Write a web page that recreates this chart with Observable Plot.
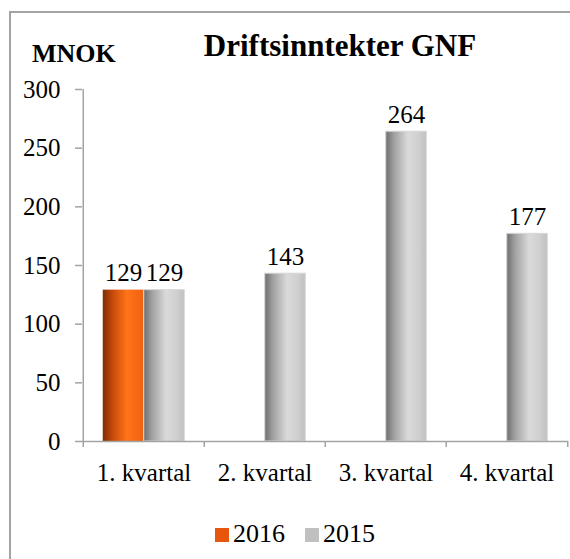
<!DOCTYPE html>
<html>
<head>
<meta charset="utf-8">
<script src="https://cdn.jsdelivr.net/npm/d3@7"></script>
<script src="https://cdn.jsdelivr.net/npm/@observablehq/plot@0.6"></script>
<style>
html,body{margin:0;padding:0;background:#fff;}
#wrap{position:relative;width:570px;height:559px;overflow:hidden;font-family:'Liberation Serif','Times New Roman',Times,serif;color:#000;}
#border{position:absolute;left:9px;top:11px;width:700px;height:700px;border-left:2px solid #a3a3a3;border-top:2px solid #a3a3a3;}
#chart{position:absolute;left:0;top:0;}
#title{position:absolute;left:340px;top:30px;transform:translateX(-50%);font-weight:bold;font-size:31px;line-height:31px;white-space:nowrap;}
#unit{position:absolute;left:32px;top:41px;font-weight:bold;font-size:26px;line-height:26px;white-space:nowrap;}
#legend{position:absolute;left:0;top:521px;width:570px;height:30px;}
.item{position:absolute;top:0;font-size:26px;line-height:26px;white-space:nowrap;}
.sw{display:inline-block;width:14px;height:14px;margin-right:4px;vertical-align:0px;}
#probe{position:absolute;left:390px;top:300px;font-size:9px;font-family:monospace;white-space:pre;color:#fff;}
</style>
</head>
<body>
<div id="wrap">
  <div id="border"></div>
  <div id="chart"></div>
  <div id="unit">MNOK</div>
  <div id="title">Driftsinntekter GNF</div>
  <div id="legend"></div>
  <div id="probe"></div>
</div>
<script>
// ---- data ----
const quarters = ["1. kvartal", "2. kvartal", "3. kvartal", "4. kvartal"];
const seriesNames = ["2016", "2015"];
const values2016 = [129, null, null, null];
const values2015 = [129, 143, 264, 177];
const yTicks = [0, 50, 100, 150, 200, 250, 300];
const legendColors = ["#e8560e", "#c0c0c0"];

// ---- layout ----
const W = 570, H = 500;
const mL = 82, mR = 2, mT = 89, mB = 59;
const bw = (W - mL - mR) / quarters.length;
const barW = 41;
const outer = (bw - 2 * barW) / 2;
const axisColor = "#a3a3a3";
const font = "'Liberation Serif','Times New Roman',Times,serif";
const fs = 25;

const d2016 = quarters.map((q, i) => ({q, v: values2016[i]})).filter(d => d.v != null);
const d2015 = quarters.map((q, i) => ({q, v: values2015[i]})).filter(d => d.v != null);

const tickUnits = 6 * 300 / (H - mT - mB);

const svg = Plot.plot({
  width: W,
  height: H,
  marginLeft: mL,
  marginRight: mR,
  marginTop: mT,
  marginBottom: mB,
  style: {fontFamily: font, fontSize: fs + "px", color: "#000", background: "transparent", overflow: "visible"},
  x: {domain: quarters, padding: 0, axis: null},
  y: {domain: [0, 300], axis: null},
  marks: [
    Plot.barY(d2016, {x: "q", y: "v", fill: "url(#gOrange)", insetLeft: outer, insetRight: outer + barW}),
    Plot.barY(d2015, {x: "q", y: "v", fill: "url(#gGray)", stroke: "#d6d6d6", strokeWidth: 1, insetLeft: outer + barW, insetRight: outer}),
    Plot.ruleY([0], {stroke: axisColor, strokeWidth: 1.5}),
    Plot.ruleX([quarters[0]], {y1: 0, y2: 300, dx: -bw / 2, stroke: axisColor, strokeWidth: 1.5}),
    Plot.ruleX(quarters, {y1: 0, y2: -tickUnits, dx: -bw / 2, stroke: axisColor, strokeWidth: 1.5}),
    Plot.ruleX([quarters[quarters.length - 1]], {y1: 0, y2: -tickUnits, dx: bw / 2, stroke: axisColor, strokeWidth: 1.5}),
    Plot.axisY({ticks: yTicks, tickSize: 7, tickPadding: 15, stroke: axisColor, strokeWidth: 1.5, fill: "#000", fontSize: fs, label: null}),
    Plot.axisX({tickSize: 0, tickPadding: 22, fill: "#000", fontSize: fs, label: null}),
    Plot.text(d2016, {x: "q", y: "v", text: d => String(d.v), dx: -barW / 2, dy: -17, fontSize: fs, fill: "#000"}),
    Plot.text(d2015, {x: "q", y: "v", text: d => String(d.v), dx: barW / 2, dy: -17, fontSize: fs, fill: "#000"})
  ]
});

const defs = d3.select(svg).insert("defs", ":first-child");
function grad(id, stops) {
  const g = defs.append("linearGradient").attr("id", id).attr("x1", "0").attr("x2", "1").attr("y1", "0").attr("y2", "0");
  stops.forEach(([o, c]) => g.append("stop").attr("offset", o).attr("stop-color", c));
}
grad("gOrange", [[0, "#7e2d04"], [0.25, "#c84a08"], [0.6, "#ff7418"], [0.8, "#f86a14"], [1, "#ee6210"]]);
grad("gGray", [[0, "#6e6e6e"], [0.2, "#a0a0a0"], [0.55, "#dadada"], [0.8, "#d0d0d0"], [1, "#c0c0c0"]]);

document.getElementById("chart").appendChild(svg);

// legend
const legend = document.getElementById("legend");
const lx = [215, 305];
seriesNames.forEach((name, i) => {
  const item = document.createElement("div");
  item.className = "item";
  item.style.left = lx[i] + "px";
  const sw = document.createElement("span");
  sw.className = "sw";
  sw.style.background = legendColors[i];
  item.appendChild(sw);
  item.appendChild(document.createTextNode(name));
  legend.appendChild(item);
});

// force style/layout resolution so the serif font is applied before capture
const titleEl = document.getElementById("title");
const firstText = svg.querySelector("text");
const probeInfo = getComputedStyle(titleEl).fontFamily.length + getComputedStyle(firstText).fontFamily.length + Math.round(titleEl.getBoundingClientRect().width);
svg.querySelectorAll("text").forEach(t => { getComputedStyle(t).fontFamily; t.getBBox(); });
document.getElementById("probe").textContent = probeInfo > 0 ? "\u00a0" : "";
</script>
</body>
</html>
